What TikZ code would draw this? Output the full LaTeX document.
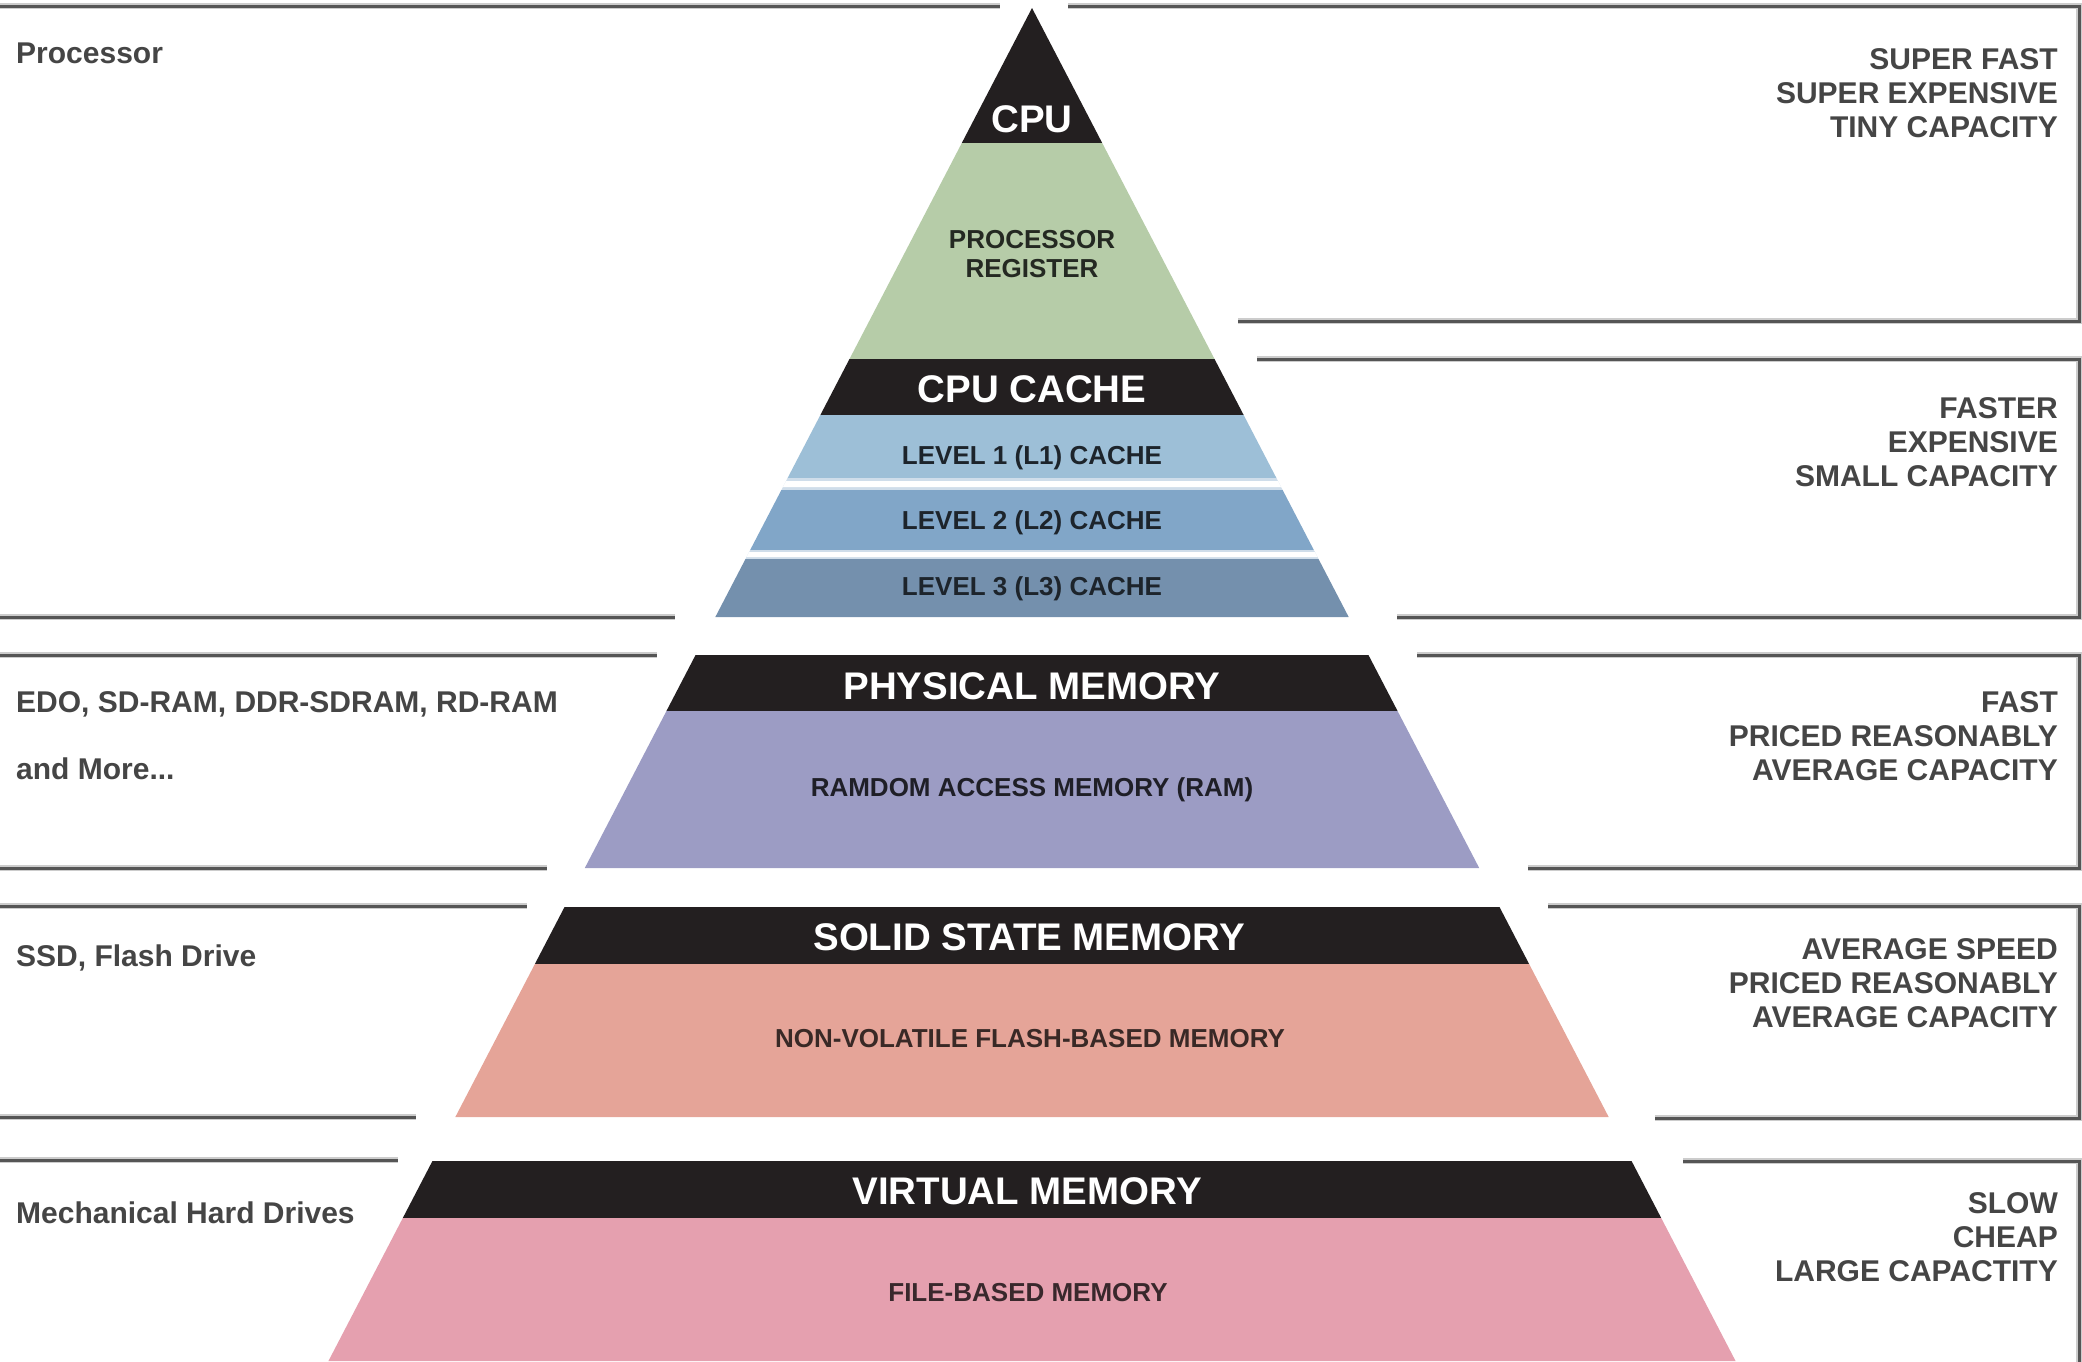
\documentclass[tikz,border=0pt]{standalone}
\usepackage{fontspec}
\setmainfont{Liberation Sans}
\usepackage{xcolor}
\definecolor{bandblack}{HTML}{231F20}
\definecolor{regGreen}{HTML}{B6CCA8}
\definecolor{lOne}{HTML}{9DBFD7}
\definecolor{lTwo}{HTML}{81A6C8}
\definecolor{lThree}{HTML}{7490AD}
\definecolor{sepBlue}{HTML}{CFDDEA}
\definecolor{ramBlue}{HTML}{9C9CC4}
\definecolor{ssdRed}{HTML}{E5A498}
\definecolor{vmPink}{HTML}{E5A0AF}
\definecolor{frameGray}{HTML}{555555}
\definecolor{noteGray}{HTML}{454545}

\begin{document}
\begin{tikzpicture}[
  x=1pt, y=-1pt,
  % Global text styling
  every node/.style={inner sep=0pt},
  % Labels inside the pyramid
  header/.style={text=white, anchor=base, font=\fontsize{38.5}{44}\selectfont\bfseries},
  sublabel/.style={text=black!85, anchor=base, align=center, font=\fontsize{26}{29}\selectfont\bfseries},
  % Notes on both sides (base = last line)
  leftnote/.style={text=noteGray, anchor=base west, align=left, font=\fontsize{30}{34}\selectfont\bfseries},
  rightnote/.style={text=noteGray, anchor=base east, align=right, font=\fontsize{30}{34}\selectfont\bfseries},
  % Panel frame lines
  frame/.style={draw=frameGray, line width=3pt, preaction={draw=black!20, line width=6pt}}
]
\useasboundingbox (0,0) rectangle (2082,1361);

% Pyramid bands: top y / bottom y / colour
\foreach \ytop/\ybot/\col in {8/143/bandblack, 143/359/regGreen, 359/415/bandblack,
    415/478/lOne, 478/490/sepBlue, 481/487/white, 490/550/lTwo, 550/559/sepBlue, 552/557/white,
    559/617/lThree, 655/711/bandblack, 711/868/ramBlue, 907/964/bandblack, 964/1117/ssdRed,
    1161/1218/bandblack, 1218/1361/vmPink}
  \fill[\col] ({1032-0.52*(\ytop-8)},\ytop) -- ({1032+0.52*(\ytop-8)},\ytop)
    -- ({1032+0.52*(\ybot-8)},\ybot) -- ({1032-0.52*(\ybot-8)},\ybot) -- cycle;

% Left frames
\draw[frame] (0,6) -- (1000,6);
\draw[frame] (0,617) -- (675,617);
\draw[frame] (0,655) -- (657,655);
\draw[frame] (0,868) -- (547,868);
\draw[frame] (0,906) -- (527,906);
\draw[frame] (0,1117) -- (416,1117);
\draw[frame] (0,1160) -- (398,1160);

% Right frames
\draw[frame] (1068,6) -- (2079,6) -- (2079,321) -- (1238,321);
\draw[frame] (1257,359) -- (2079,359) -- (2079,617) -- (1397,617);
\draw[frame] (1417,655) -- (2079,655) -- (2079,868) -- (1528,868);
\draw[frame] (1548,906) -- (2079,906) -- (2079,1118) -- (1655,1118);
\draw[frame] (1683,1161) -- (2079,1161) -- (2079,1365);

% Pyramid labels
\node[header] (cpu) at (1032,132) {CPU};
\node[sublabel, text=regGreen!20!black] (register) at (1032,277) {PROCESSOR\\REGISTER};
\node[header] (cache) at (1032,402) {CPU CACHE};
\node[sublabel, text=lThree!25!black] (lone) at (1032,464) {LEVEL 1 (L1) CACHE};
\node[sublabel, text=lThree!25!black] (ltwo) at (1032,529) {LEVEL 2 (L2) CACHE};
\node[sublabel, text=lThree!25!black] (lthree) at (1032,595) {LEVEL 3 (L3) CACHE};
\node[header] (physical) at (1032,699) {PHYSICAL MEMORY};
\node[sublabel, text=ramBlue!20!black] (ram) at (1032,796) {RAMDOM ACCESS MEMORY (RAM)};
\node[header] (solid) at (1029,950) {SOLID STATE MEMORY};
\node[sublabel, text=ssdRed!25!black] (flash) at (1030,1047) {NON-VOLATILE FLASH-BASED MEMORY};
\node[header] (virtual) at (1027,1204) {VIRTUAL MEMORY};
\node[sublabel, text=vmPink!25!black] (filebased) at (1028,1301) {FILE-BASED MEMORY};

% Left notes
\node[leftnote] (processor) at (16,63) {Processor};
\node[leftnote, font=\fontsize{30}{67}\selectfont\bfseries] (dram) at (16,779) {EDO, SD-RAM, DDR-SDRAM, RD-RAM\\and More...};
\node[leftnote] (flashdrive) at (16,966) {SSD, Flash Drive};
\node[leftnote] (harddrive) at (16,1223) {Mechanical Hard Drives};

% Right notes
\node[rightnote] (tiny) at (2058,137) {SUPER FAST\\SUPER EXPENSIVE\\TINY CAPACITY};
\node[rightnote] (small) at (2058,486) {FASTER\\EXPENSIVE\\SMALL CAPACITY};
\node[rightnote] (avgram) at (2058,780) {FAST\\PRICED REASONABLY\\AVERAGE CAPACITY};
\node[rightnote] (avgssd) at (2058,1027) {AVERAGE SPEED\\PRICED REASONABLY\\AVERAGE CAPACITY};
\node[rightnote] (large) at (2058,1281) {SLOW\\CHEAP\\LARGE CAPACTITY};

\end{tikzpicture}
\end{document}
